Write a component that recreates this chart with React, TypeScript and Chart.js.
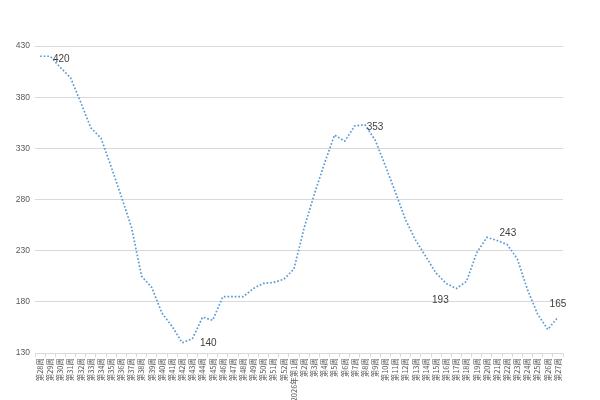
import React, { useEffect, useRef } from "react";
import { Chart, registerables } from "chart.js";

Chart.register(...registerables);

const weekLabels: string[] = [
  "第28周", "第29周", "第30周", "第31周", "第32周", "第33周", "第34周", "第35周", "第36周", "第37周",
  "第38周", "第39周", "第40周", "第41周", "第42周", "第43周", "第44周", "第45周", "第46周", "第47周",
  "第48周", "第49周", "第50周", "第51周", "第52周",
  "2026年第1周", "第2周", "第3周", "第4周", "第5周", "第6周", "第7周", "第8周", "第9周", "第10周",
  "第11周", "第12周", "第13周", "第14周", "第15周", "第16周", "第17周", "第18周", "第19周", "第20周",
  "第21周", "第22周", "第23周", "第24周", "第25周", "第26周", "第27周",
];

const priceValues: number[] = [
  420, 420, 409, 399, 375, 350, 340, 312, 283, 253,
  205, 194, 169, 156, 140, 144, 165, 162, 185, 185,
  185, 193, 198, 199, 202,
  212, 252, 285, 315, 343, 337, 352, 353, 338, 313,
  287, 260, 240, 224, 208, 198, 193, 200, 228, 243,
  240, 236, 222, 192, 168, 153, 165,
];

const yTicksMin = 130;
const yTicksMax = 430;
const yTicksStep = 50;

// indices of points that carry a value label, and label nudges (style)
const labeledIndices: number[] = [1, 14, 32, 41, 44, 51];
const labelNudges: [number, number][] = [
  [11, 3], [26, 0], [10, 2], [-16, 12], [21, -4], [0, -13],
];

const valueLabelPlugin = {
  id: "valueLabels",
  afterDatasetsDraw(chart: any) {
    const meta = chart.getDatasetMeta(0);
    const ctx = chart.ctx;
    ctx.save();
    ctx.font = '10px "Liberation Sans", Arial, sans-serif';
    ctx.fillStyle = "#404040";
    ctx.textAlign = "center";
    ctx.textBaseline = "middle";
    labeledIndices.forEach((idx, k) => {
      const el = meta.data[idx];
      if (!el) return;
      const [dx, dy] = labelNudges[k];
      ctx.fillText(String(priceValues[idx]), el.x + dx, el.y + dy);
    });
    ctx.restore();
  },
};

export default function App() {
  const canvasRef = useRef<HTMLCanvasElement | null>(null);

  useEffect(() => {
    if (!canvasRef.current) return;
    const chart = new Chart(canvasRef.current, {
      type: "line",
      data: {
        labels: weekLabels,
        datasets: [
          {
            data: priceValues,
            borderColor: "#5b9bd5",
            borderWidth: 1.7,
            borderDash: [1.7, 1.9],
            pointRadius: 0,
            tension: 0,
            fill: false,
          },
        ],
      },
      options: {
        animation: false,
        responsive: false,
        maintainAspectRatio: false,
        layout: { padding: { left: 0, right: 37, top: 46, bottom: 0 } },
        plugins: {
          legend: { display: false },
          tooltip: { enabled: false },
        },
        scales: {
          x: {
            type: "category",
            offset: true,
            grid: {
              offset: true,
              drawOnChartArea: false,
              drawTicks: true,
              tickLength: 4,
              color: "#d9d9d9",
            },
            border: { display: true, color: "#d9d9d9" },
            ticks: {
              autoSkip: false,
              minRotation: 90,
              maxRotation: 90,
              padding: 1,
              color: "#595959",
              font: { size: 7.5, family: '"Noto Sans CJK SC", sans-serif' },
            },
            afterFit(scale: any) {
              scale.height = 47;
            },
          },
          y: {
            min: yTicksMin,
            max: yTicksMax,
            grid: { color: "#d9d9d9", drawTicks: false },
            border: { display: false },
            ticks: {
              stepSize: yTicksStep,
              padding: 5,
              color: "#595959",
              font: { size: 8.5, family: '"Liberation Sans", Arial, sans-serif' },
            },
            afterFit(scale: any) {
              scale.width = 35;
            },
          },
        },
      },
      plugins: [valueLabelPlugin],
    });
    return () => chart.destroy();
  }, []);

  return (
    <div style={{ position: "fixed", left: 0, top: 0, width: 600, height: 400, background: "#fff" }}>
      <canvas ref={canvasRef} width={600} height={400} style={{ width: 600, height: 400 }} />
    </div>
  );
}
